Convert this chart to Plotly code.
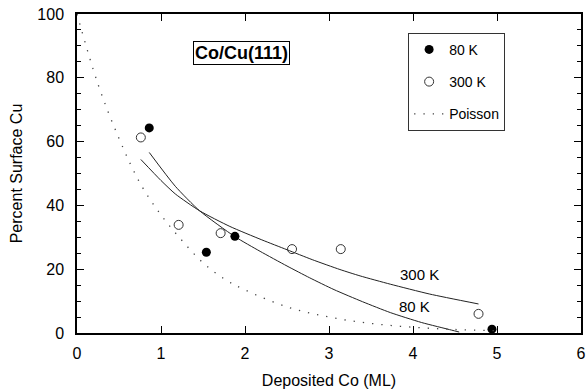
import plotly.graph_objects as go

# ---- data ----
x_80k = [0.86, 1.54, 1.88, 4.94]
y_80k = [64.3, 25.3, 30.3, 1.2]

x_300k = [0.76, 1.21, 1.71, 2.56, 3.14, 4.78]
y_300k = [61.3, 33.9, 31.3, 26.3, 26.3, 6.0]

# fitted curves
fit80_x = [0.86, 1.17, 1.46, 1.88, 2.18, 2.5, 2.77, 3.06, 3.4, 3.73, 4.1, 4.46, 4.55]
fit80_y = [56.6, 46.0, 38.3, 30.2, 25.6, 21.0, 17.3, 13.6, 9.8, 6.4, 3.3, 0.9, 0.3]

fit300_x = [0.76, 1.0, 1.17, 1.46, 1.82, 2.2, 2.5, 2.8, 3.13, 3.37, 3.73, 4.2, 4.78]
fit300_y = [54.4, 47.8, 43.6, 38.3, 33.4, 29.2, 26.1, 23.0, 19.9, 17.9, 15.3, 12.2, 9.1]

poisson_x = [0.0, 0.25, 0.5, 0.75, 1.0, 1.25, 1.5, 1.75, 2.0, 2.5, 3.0, 3.5, 4.0, 4.5, 5.0]
poisson_y = [100, 78, 61, 47, 37, 29, 22, 17, 13.5, 8.2, 5.0, 3.0, 1.8, 1.1, 0.7]

x_ticks = [0, 1, 2, 3, 4, 5, 6]
y_ticks = [0, 20, 40, 60, 80, 100]

FONT = "Liberation Sans"

fig = go.Figure()

for fx, fy in ((fit80_x, fit80_y), (fit300_x, fit300_y)):
    fig.add_trace(go.Scatter(x=fx, y=fy, mode="lines",
                             line=dict(color="#222", width=1, shape="spline", smoothing=0.6),
                             showlegend=False, hoverinfo="skip"))

fig.add_trace(go.Scatter(x=x_80k, y=y_80k, mode="markers", name="80 K",
                         legendgroup="a",
                         marker=dict(symbol="circle", size=9, color="black",
                                     line=dict(color="black", width=0))))
fig.add_trace(go.Scatter(x=x_300k, y=y_300k, mode="markers", name="300 K",
                         legendgroup="b",
                         marker=dict(symbol="circle-open", size=9, color="#333",
                                     line=dict(width=1))))
fig.add_trace(go.Scatter(x=poisson_x, y=poisson_y, mode="lines", name="Poisson",
                         legendgroup="c",
                         line=dict(color="#444", width=1.3, dash="1.3px,8px",
                                   shape="spline")))

fig.add_annotation(x=1.96, y=87.8, text="<b>Co/Cu(111)</b>", showarrow=False,
                   font=dict(family=FONT, size=18, color="black"),
                   bordercolor="black", borderwidth=1, borderpad=1, bgcolor="white")
fig.add_annotation(x=4.08, y=18.2, text="300 K", showarrow=False,
                   font=dict(family=FONT, size=15, color="black"))
fig.add_annotation(x=4.02, y=8.2, text="80 K", showarrow=False,
                   font=dict(family=FONT, size=15, color="black"))

fig.update_layout(
    width=588, height=389,
    margin=dict(l=77, r=7, t=14, b=56),
    paper_bgcolor="white", plot_bgcolor="white",
    font=dict(family=FONT, size=15, color="black"),
    legend=dict(x=0.657, y=0.941, xanchor="left", yanchor="top",
                bordercolor="#333", borderwidth=1, bgcolor="white",
                font=dict(family=FONT, size=14, color="black"),
                traceorder="grouped", tracegroupgap=11,
                itemwidth=30),
)
fig.update_xaxes(range=[0, 6], tickvals=x_ticks, ticks="inside", ticklen=7,
                 tickwidth=1, tickcolor="black", showline=True, linecolor="black",
                 linewidth=1.5, mirror="ticks", showgrid=False, zeroline=False,
                 ticklabelstandoff=5, automargin=False,
                 tickfont=dict(size=16), title=dict(text="Deposited Co (ML)",
                 font=dict(size=16), standoff=14))
fig.update_yaxes(range=[0, 100], tickvals=y_ticks, ticks="inside", ticklen=7,
                 tickwidth=1, tickcolor="black", showline=True, linecolor="black",
                 linewidth=1.5, mirror="ticks", showgrid=False, zeroline=False,
                 ticklabelstandoff=8, automargin=False,
                 minor=dict(dtick=5, ticks="inside", ticklen=4, tickcolor="black"),
                 tickfont=dict(size=16), title=dict(text="Percent Surface Cu",
                 font=dict(size=16), standoff=11))

fig.write_html("out.html")
